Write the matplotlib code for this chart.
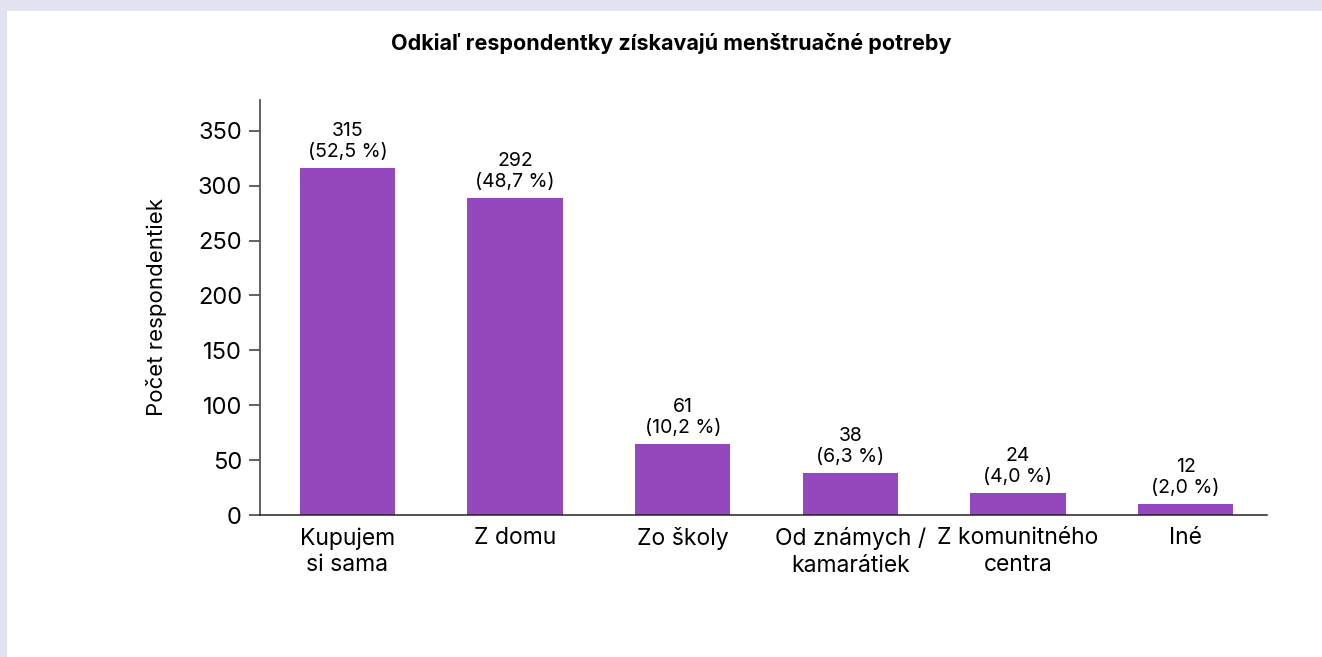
import matplotlib
matplotlib.use('Agg')
from matplotlib import pyplot as plt
from matplotlib.patches import Rectangle

categories = ['Kupujem\nsi sama', 'Z domu', 'Zo školy', 'Od známych /\nkamarátiek',
              'Z komunitného\ncentra', 'Iné']
# bar heights as drawn in the picture
bar_heights = [316, 289, 65, 38, 20, 10]
# labels printed above the bars
counts = [315, 292, 61, 38, 24, 12]
percents = ['52,5', '48,7', '10,2', '6,3', '4,0', '2,0']
yticks = [0, 50, 100, 150, 200, 250, 300, 350]

plt.rcParams['font.family'] = ['Inter', 'DejaVu Sans']

fig = plt.figure(figsize=(13.22, 6.57), dpi=100)
fig.patch.set_facecolor('white')

# lavender frame strips
fig.patches.append(Rectangle((0, 1 - 11 / 657), 1, 11 / 657, transform=fig.transFigure,
                             facecolor='#E1E3F1', edgecolor='none', zorder=0))
fig.patches.append(Rectangle((0, 0), 7 / 1322, 1, transform=fig.transFigure,
                             facecolor='#E1E3F1', edgecolor='none', zorder=0))

ax = fig.add_axes([260 / 1322, 1 - 515 / 657, 1007 / 1322, 415 / 657])
x = list(range(len(categories)))
ax.bar(x, bar_heights, width=0.57, color='#9548BD')

for xi, h, c, p in zip(x, bar_heights, counts, percents):
    ax.annotate(f'{c}\n({p} %)', (xi, h), xytext=(0, 5), textcoords='offset points',
                ha='center', va='bottom', fontsize=14, linespacing=1.22)

ax.set_xlim(-0.522, 5.486)
ax.set_ylim(0, 378)
ax.set_yticks(yticks)
ax.set_xticks(x)
ax.set_xticklabels(categories, fontsize=16.5, linespacing=1.25)
ax.tick_params(axis='x', length=0, pad=9)
ax.tick_params(axis='y', length=8, width=1.3, color='#555555', labelsize=17, pad=5)

for s in ['top', 'right']:
    ax.spines[s].set_visible(False)
ax.spines['left'].set_color('#555555')
ax.spines['left'].set_linewidth(1.3)
ax.spines['bottom'].set_color('#222222')
ax.spines['bottom'].set_linewidth(1.1)

ax.set_ylabel('Počet respondentiek', fontsize=16, labelpad=22)
fig.text(0.508, 1 - 43 / 657, 'Odkiaľ respondentky získavajú menštruačné potreby',
         ha='center', va='center', fontsize=15.5, fontweight='bold')

fig.savefig('out.png', dpi=100)
